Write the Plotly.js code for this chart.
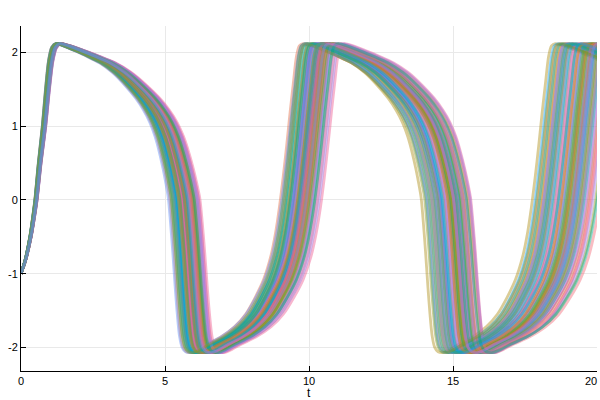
<!DOCTYPE html>
<html>
<head>
<meta charset="utf-8">
<script src="https://cdn.plot.ly/plotly-3.0.1.min.js"></script>
<style>html,body{margin:0;padding:0;background:#fff}#chart{width:600px;height:400px}</style>
</head>
<body>
<div id="chart"></div>
<script>
// Median trajectory (t, y)
const refT = [0,0.15,0.33,0.45,0.52,0.65,0.8,0.92,1.03,1.15,1.3,1.6,2.0,2.5,3.0,3.5,4.0,4.4,4.7,4.95,5.15,5.32,5.46,5.57,5.66,5.74,5.82,5.9,5.98,6.06,6.15,6.27,6.45,6.7,7.0,7.5,8.0,8.4,8.75,9.05,9.3,9.48,9.62,9.75,9.88,10.0,10.12,10.22,10.32,10.45,10.75,11.15,11.65,12.15,12.65,13.15,13.55,13.85,14.1,14.3,14.47,14.61,14.72,14.81,14.89,14.97,15.05,15.13,15.21,15.3,15.42,15.6,15.85,16.15,16.65,17.15,17.55,17.9,18.2,18.45,18.63,18.77,18.9,19.03,19.15,19.27,19.37,19.47,19.6,19.9,20.3,20.8,21.3,21.8];
const refY = [-1,-0.82,-0.5,-0.2,0,0.5,1.0,1.5,1.88,2.07,2.12,2.09,2.03,1.95,1.86,1.73,1.55,1.38,1.22,1.05,0.86,0.64,0.42,0.22,0.03,-0.3,-0.7,-1.15,-1.55,-1.85,-2.0,-2.06,-2.07,-2.03,-1.96,-1.86,-1.72,-1.55,-1.32,-1.08,-0.78,-0.45,-0.1,0.3,0.75,1.2,1.62,1.95,2.09,2.12,2.09,2.03,1.95,1.86,1.73,1.55,1.38,1.22,1.05,0.86,0.64,0.42,0.22,0.03,-0.3,-0.7,-1.15,-1.55,-1.85,-2.0,-2.06,-2.07,-2.03,-1.96,-1.86,-1.72,-1.55,-1.32,-1.08,-0.78,-0.45,-0.1,0.3,0.75,1.2,1.62,1.95,2.09,2.12,2.09,2.03,1.95,1.86,1.73];
// Event times of the median path: start, first peak, first drop, first rise, second drop, second rise
const eventT = [0,1.3,5.7,9.65,14.85,18.8];
// Per-trajectory lag (time units) at each event
const lagPeak  = [0.02,-0.05,0.08,-0.03,-0.06,0.04,0.10,-0.08,0.00,0.06,-0.02,0.03,-0.07,0.05,-0.04,0.01,0.09,-0.10,0.02,-0.01,0.07,-0.06,0.04,-0.03,0.00,0.06,-0.09,0.03,-0.05,0.08,-0.02,0.05,-0.07,0.01,-0.04,0.09,-0.08,0.02,0.00,0.06,-0.05,0.04,-0.01,0.07,-0.10,0.03,-0.03,0.05,-0.06,0.02,-0.02,0.08,0.00,-0.07,0.04,-0.04,0.06,-0.09,0.01,0.05];
const lagDrop1 = [0.10,-0.20,0.35,0.00,-0.30,0.20,0.55,-0.40,0.05,0.25,-0.10,0.15,-0.35,0.30,-0.15,-0.05,0.45,-0.50,0.10,0.00,0.40,-0.25,0.20,-0.10,0.00,0.30,-0.45,0.15,-0.20,0.50,-0.05,0.25,-0.30,0.05,-0.15,0.40,-0.35,0.10,-0.05,0.35,-0.25,0.15,0.00,0.45,-0.55,0.20,-0.10,0.30,-0.30,0.05,-0.15,0.50,0.00,-0.40,0.25,-0.20,0.35,-0.45,0.10,0.15];
const lagRise1 = [0.15,-0.30,0.40,-0.10,-0.45,0.30,0.78,-0.50,0.00,0.20,0.05,0.35,-0.25,0.45,-0.20,0.10,0.50,-0.65,-0.05,0.20,0.30,-0.15,0.10,-0.35,0.05,0.55,-0.40,0.05,-0.10,0.65,-0.20,0.40,-0.55,0.15,0.00,0.60,-0.35,0.25,-0.15,0.25,-0.45,0.20,0.10,0.70,-0.60,0.15,0.00,0.35,-0.20,0.30,-0.30,0.45,-0.05,-0.30,0.10,-0.05,0.55,-0.55,0.00,0.25];
const lagDrop2 = [0.30,-0.25,0.55,-0.30,-0.92,0.25,0.80,-0.60,0.10,0.05,0.20,0.50,-0.10,0.65,-0.45,0.00,0.40,-0.70,-0.15,0.35,0.15,0.05,0.35,-0.55,0.20,0.70,-0.35,-0.05,-0.20,0.75,-0.40,0.45,-0.75,0.25,0.10,0.60,-0.50,0.40,-0.30,0.30,-0.65,0.10,0.30,0.78,-0.55,0.00,-0.10,0.45,-0.25,0.55,-0.35,0.50,0.15,-0.45,0.20,0.00,0.65,-0.80,-0.20,0.20];
const lagRise2 = [0.45,-0.40,0.70,-0.45,-1.05,0.35,0.95,-0.70,0.20,0.00,0.40,0.85,0.05,1.00,-0.65,-0.15,0.55,-0.85,-0.30,0.60,0.25,0.15,0.50,-0.75,0.30,1.15,-0.50,0.05,-0.10,1.30,-0.55,0.65,-0.95,0.20,0.10,0.80,-0.60,0.75,-0.20,0.40,-0.80,0.15,0.50,1.05,-0.65,-0.05,-0.25,0.60,-0.35,0.90,-0.45,0.70,0.25,-0.55,0.35,-0.05,1.20,-0.90,-0.15,0.45];
const palette = ['#009AFA','#E36F47','#3EA44E','#C371D2','#AC8E18','#00AAAE','#ED5E93','#C68225','#00A98D','#8E971D','#00A9CD','#9B7FE9','#618DF6','#F16C79','#DA5FB5','#76A02A'];
const xTicks = [0,5,10,15,20];
const yTicks = [-2,-1,0,1,2];
const xLabel = 't';

function hexA(h,a){const r=parseInt(h.slice(1,3),16),g=parseInt(h.slice(3,5),16),b=parseInt(h.slice(5,7),16);return `rgba(${r},${g},${b},${a})`;}
function lagAt(t,lags){
  if(t>=eventT[eventT.length-1]) return lags[lags.length-1];
  for(let k=0;k<eventT.length-1;k++){
    if(t>=eventT[k]&&t<=eventT[k+1]){const f=(t-eventT[k])/(eventT[k+1]-eventT[k]);return lags[k]+f*(lags[k+1]-lags[k]);}
  }
  return 0;
}
const traces=[];
for(let i=0;i<lagPeak.length;i++){
  const lags=[0,lagPeak[i],lagDrop1[i],lagRise1[i],lagDrop2[i],lagRise2[i]];
  traces.push({
    type:'scatter',mode:'lines',
    x:refT.map(t=>t+lagAt(t,lags)),y:refY,
    line:{color:hexA(palette[i%palette.length],0.45),width:2.8,shape:'spline',smoothing:0.8},
    hoverinfo:'skip',showlegend:false
  });
}
const font={family:'Liberation Sans, Arial, sans-serif',size:11,color:'#000'};
const lastX = xTicks[xTicks.length-1];
const axisCommon={showline:true,linecolor:'#000',linewidth:1,mirror:false,ticks:'inside',ticklen:5,tickwidth:1,tickcolor:'#000',
  showgrid:true,gridcolor:'#e9e9e9',gridwidth:1,zeroline:false,tickfont:font};
const layout={
  width:600,height:400,margin:{l:21,r:3,t:26,b:29},paper_bgcolor:'#fff',plot_bgcolor:'#fff',showlegend:false,
  xaxis:Object.assign({},axisCommon,{range:[0,20],tickvals:xTicks,ticktext:xTicks.map(v=>v===lastX?'':String(v))}),
  yaxis:Object.assign({},axisCommon,{range:[-2.32,2.36],tickvals:yTicks,ticktext:yTicks.map(String)}),
  annotations:[
    {text:xLabel,xref:'paper',yref:'paper',x:0.5,y:0,xanchor:'center',yanchor:'top',yshift:-13,showarrow:false,
      font:{family:'Liberation Sans, Arial, sans-serif',size:12,color:'#000'}},
    {text:String(lastX),xref:'x',yref:'paper',x:lastX,y:0,xanchor:'right',yanchor:'top',xshift:2,yshift:-2,showarrow:false,font:font}
  ]
};
Plotly.newPlot('chart',traces,layout,{staticPlot:true,displayModeBar:false});
</script>
</body>
</html>
